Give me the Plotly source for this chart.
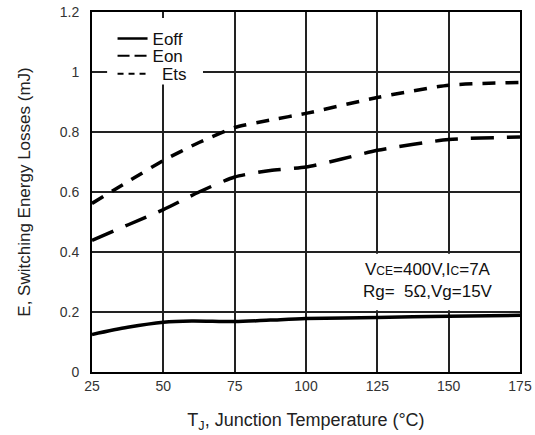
import plotly.graph_objects as go

temp_off = [25, 37.5, 50, 60, 75, 87.5, 100, 125, 150, 175]
eoff = [0.125, 0.149, 0.166, 0.170, 0.168, 0.173, 0.178, 0.182, 0.186, 0.189]

temp_on = [25, 37.5, 50, 62.5, 75, 87.5, 100, 112.5, 125, 150, 175]
eon = [0.439, 0.490, 0.541, 0.600, 0.650, 0.672, 0.683, 0.710, 0.739, 0.775, 0.783]

temp_ts = [25, 37.5, 50, 62.5, 75, 87.5, 100, 125, 150, 175]
ets = [0.562, 0.634, 0.705, 0.765, 0.815, 0.840, 0.862, 0.915, 0.956, 0.965]

x_ticks = [25, 50, 75, 100, 125, 150, 175]
y_ticks = [0, 0.2, 0.4, 0.6, 0.8, 1, 1.2]
y_labels = ["0", "0.2", "0.4", "0.6", "0.8", "1", "1.2"]

FONT = "Arial, Liberation Sans, sans-serif"
fig = go.Figure()

fig.add_trace(go.Scatter(x=temp_off, y=eoff, mode="lines", line=dict(color="black", width=3.5, shape="spline", smoothing=0.8), showlegend=False))
fig.add_trace(go.Scatter(x=temp_on, y=eon, mode="lines", line=dict(color="black", width=3.5, dash="23px,13px", shape="spline", smoothing=0.6), showlegend=False))
fig.add_trace(go.Scatter(x=temp_ts, y=ets, mode="lines", line=dict(color="black", width=3.5, dash="13px,10px", shape="spline", smoothing=0.6), showlegend=False))

# legend-only samples, one legend each so the rows can sit close together
fig.add_trace(go.Scatter(x=[None], y=[None], mode="lines", name="Eoff", legend="legend", line=dict(color="black", width=2.5)))
fig.add_trace(go.Scatter(x=[None], y=[None], mode="lines", name="Eon", legend="legend2", line=dict(color="black", width=2, dash="12px,5px")))
fig.add_trace(go.Scatter(x=[None], y=[None], mode="lines", name="\u00a0\u00a0Ets", legend="legend3", line=dict(color="black", width=2, dash="6px,5px")))

# white boxes covering grid
fig.add_shape(type="rect", xref="x", yref="y", x0=30.3, x1=63.9, y0=0.958, y1=1.18, fillcolor="white", line=dict(width=0), layer="between")
fig.add_shape(type="rect", xref="x", yref="y", x0=118, x1=174.6, y0=0.206, y1=0.394, fillcolor="white", line=dict(width=0), layer="between")

fig.add_annotation(x=142.8, y=0.304, xref="x", yref="y", showarrow=False, align="center",
                   text="V<span style='font-size:12px'>CE</span>=400V,I<span style='font-size:12px'>C</span>=7A<br>Rg=  5Ω,Vg=15V",
                   font=dict(family=FONT, size=17, color="#111"))

leg_common = dict(x=0.048, xanchor="left", yanchor="middle", bgcolor="rgba(0,0,0,0)",
                  font=dict(family=FONT, size=17, color="#111"), itemwidth=30)

fig.update_layout(
    width=535, height=435,
    margin=dict(l=92, r=15, t=12, b=63),
    paper_bgcolor="white", plot_bgcolor="white",
    font=dict(family=FONT, color="#222"),
    legend=dict(y=0.925, **leg_common),
    legend2=dict(y=0.877, **leg_common),
    legend3=dict(y=0.827, **leg_common),
)
fig.update_xaxes(range=[25, 175], tickvals=x_ticks, ticktext=[str(v) for v in x_ticks],
                 showgrid=True, gridcolor="#222", gridwidth=1.5, automargin=False,
                 showline=True, linecolor="black", linewidth=2, mirror=True,
                 zeroline=False, ticks="", tickfont=dict(size=14, color="#333"),
                 title=dict(text="T<sub>J</sub>, Junction Temperature (°C)", font=dict(size=18, color="#222"), standoff=21))
fig.update_yaxes(range=[0, 1.2], tickvals=y_ticks, ticktext=y_labels,
                 showgrid=True, gridcolor="#222", gridwidth=1.5, automargin=False,
                 showline=True, linecolor="black", linewidth=2, mirror=True,
                 zeroline=False, ticks="", ticklabelstandoff=8, tickfont=dict(size=14, color="#333"),
                 title=dict(text="E, Switching Energy Losses (mJ)", font=dict(size=17, color="#222"), standoff=25))

fig.write_html("out.html")
